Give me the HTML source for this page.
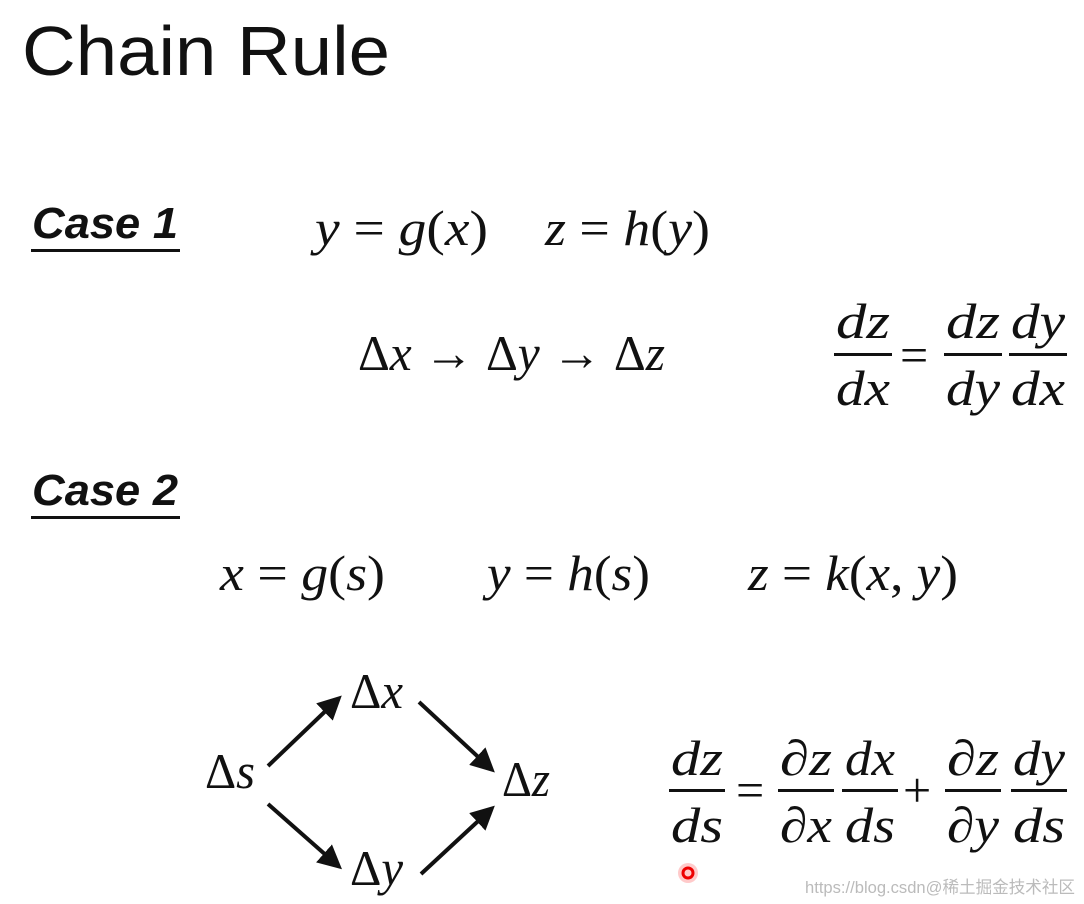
<!DOCTYPE html>
<html><head><meta charset="utf-8"><style>
html,body{margin:0;padding:0;background:#fff;width:1084px;height:904px;overflow:hidden}
svg{display:block}
.m{font-family:"Liberation Serif",serif;font-style:italic;font-size:50px;fill:#111}
.r{font-style:normal}
.c{font-family:"Liberation Sans",sans-serif;font-weight:bold;font-style:italic;font-size:44px;fill:#111}
</style></head><body>
<svg width="1084" height="904" viewBox="0 0 1084 904" xmlns="http://www.w3.org/2000/svg">
<defs><marker id="a" markerWidth="6" markerHeight="6" refX="4" refY="3" orient="auto"><path d="M0,0 L6,3 L0,6 z" fill="#111"/></marker></defs>
<text x="22" y="75" font-family="Liberation Sans, sans-serif" font-size="70" fill="#111" textLength="368" lengthAdjust="spacingAndGlyphs">Chain Rule</text>
<text class="c" x="32" y="238" textLength="146" lengthAdjust="spacingAndGlyphs">Case 1</text>
<rect x="31" y="249" width="149" height="3" fill="#111"/>
<text class="c" x="32" y="505" textLength="146" lengthAdjust="spacingAndGlyphs">Case 2</text>
<rect x="31" y="516" width="149" height="3" fill="#111"/>
<text class="m" x="315" y="245" textLength="173" lengthAdjust="spacingAndGlyphs">y<tspan class="r"> = </tspan>g<tspan class="r">(</tspan>x<tspan class="r">)</tspan></text>
<text class="m" x="545" y="245" textLength="165" lengthAdjust="spacingAndGlyphs">z<tspan class="r"> = </tspan>h<tspan class="r">(</tspan>y<tspan class="r">)</tspan></text>
<text class="m" x="358" y="370" textLength="307" lengthAdjust="spacingAndGlyphs"><tspan class="r">Δ</tspan>x<tspan class="r"> → Δ</tspan>y<tspan class="r"> → Δ</tspan>z</text>
<g class="m">
<text x="836" y="338" textLength="54" lengthAdjust="spacingAndGlyphs">dz</text>
<text x="836" y="405" textLength="54" lengthAdjust="spacingAndGlyphs">dx</text>
<text x="946" y="338" textLength="54" lengthAdjust="spacingAndGlyphs">dz</text>
<text x="946" y="405" textLength="54" lengthAdjust="spacingAndGlyphs">dy</text>
<text x="1011" y="338" textLength="54" lengthAdjust="spacingAndGlyphs">dy</text>
<text x="1011" y="405" textLength="54" lengthAdjust="spacingAndGlyphs">dx</text>
<text class="r" x="900" y="372">=</text>
</g>
<rect x="834" y="353" width="58" height="3" fill="#111"/>
<rect x="944" y="353" width="58" height="3" fill="#111"/>
<rect x="1009" y="353" width="58" height="3" fill="#111"/>
<text class="m" x="220" y="590" textLength="165" lengthAdjust="spacingAndGlyphs">x<tspan class="r"> = </tspan>g<tspan class="r">(</tspan>s<tspan class="r">)</tspan></text>
<text class="m" x="487" y="590" textLength="163" lengthAdjust="spacingAndGlyphs">y<tspan class="r"> = </tspan>h<tspan class="r">(</tspan>s<tspan class="r">)</tspan></text>
<text class="m" x="748" y="590" textLength="210" lengthAdjust="spacingAndGlyphs">z<tspan class="r"> = </tspan>k<tspan class="r">(</tspan>x<tspan class="r">, </tspan>y<tspan class="r">)</tspan></text>
<g class="m">
<text x="205" y="788" textLength="50" lengthAdjust="spacingAndGlyphs"><tspan class="r">Δ</tspan>s</text>
<text x="350" y="708" textLength="53" lengthAdjust="spacingAndGlyphs"><tspan class="r">Δ</tspan>x</text>
<text x="350" y="885" textLength="53" lengthAdjust="spacingAndGlyphs"><tspan class="r">Δ</tspan>y</text>
<text x="502" y="796" textLength="48" lengthAdjust="spacingAndGlyphs"><tspan class="r">Δ</tspan>z</text>
</g>
<g stroke="#111" stroke-width="4" marker-end="url(#a)">
<line x1="268" y1="766" x2="336" y2="701"/>
<line x1="419" y1="702" x2="489" y2="767"/>
<line x1="268" y1="804" x2="336" y2="864"/>
<line x1="421" y1="874" x2="489" y2="811"/>
</g>
<g class="m">
<text x="671" y="775" textLength="52" lengthAdjust="spacingAndGlyphs">dz</text>
<text x="671" y="842" textLength="52" lengthAdjust="spacingAndGlyphs">ds</text>
<text class="r" x="736" y="807">=</text>
<text x="780" y="775" textLength="52" lengthAdjust="spacingAndGlyphs"><tspan class="r">∂</tspan>z</text>
<text x="780" y="842" textLength="52" lengthAdjust="spacingAndGlyphs"><tspan class="r">∂</tspan>x</text>
<text x="845" y="775" textLength="50" lengthAdjust="spacingAndGlyphs">dx</text>
<text x="845" y="842" textLength="50" lengthAdjust="spacingAndGlyphs">ds</text>
<text class="r" x="903" y="807">+</text>
<text x="947" y="775" textLength="52" lengthAdjust="spacingAndGlyphs"><tspan class="r">∂</tspan>z</text>
<text x="947" y="842" textLength="52" lengthAdjust="spacingAndGlyphs"><tspan class="r">∂</tspan>y</text>
<text x="1013" y="775" textLength="52" lengthAdjust="spacingAndGlyphs">dy</text>
<text x="1013" y="842" textLength="52" lengthAdjust="spacingAndGlyphs">ds</text>
</g>
<rect x="669" y="789" width="56" height="3" fill="#111"/>
<rect x="778" y="789" width="56" height="3" fill="#111"/>
<rect x="842" y="789" width="56" height="3" fill="#111"/>
<rect x="945" y="789" width="56" height="3" fill="#111"/>
<rect x="1011" y="789" width="56" height="3" fill="#111"/>
<circle cx="688" cy="873" r="10" fill="#f66" opacity="0.35"/>
<circle cx="688" cy="873" r="5" fill="none" stroke="#e00" stroke-width="3"/>
<text x="805" y="893" font-family="Liberation Sans, Noto Sans CJK SC, sans-serif" font-size="17" fill="#bbb" textLength="270" lengthAdjust="spacingAndGlyphs">https://blog.csdn@稀土掘金技术社区</text>
</svg>
</body></html>
